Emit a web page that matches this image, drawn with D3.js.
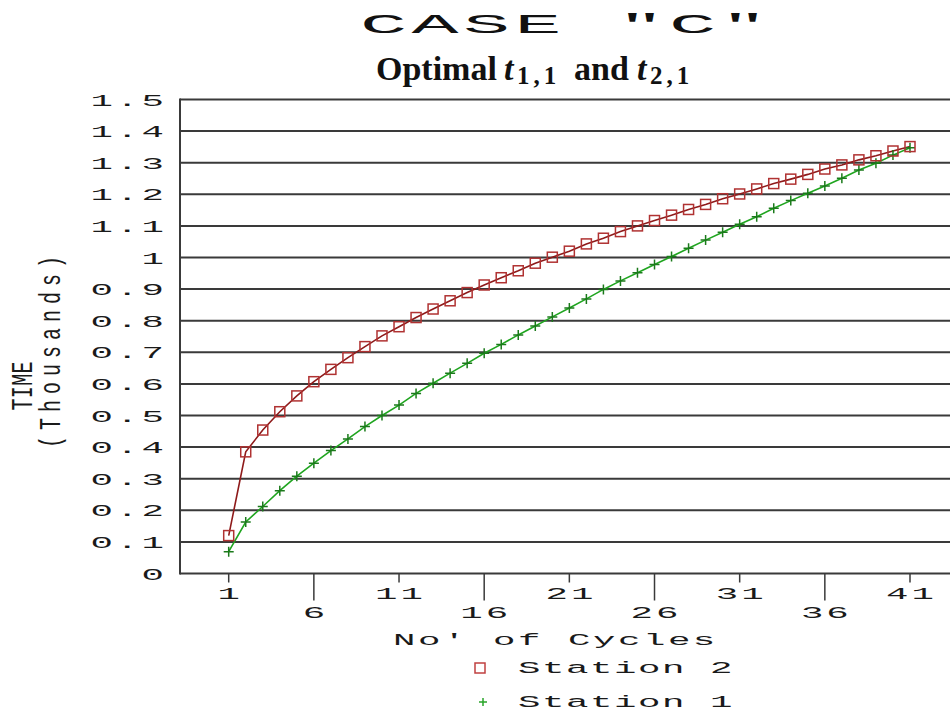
<!DOCTYPE html>
<html>
<head>
<meta charset="utf-8">
<script src="https://cdn.jsdelivr.net/npm/d3@7"></script>
<style>
  html, body { margin: 0; padding: 0; background: #ffffff; }
  svg { display: block; }
</style>
</head>
<body>
<svg id="chart" width="950" height="711"></svg>
<script>
// ---------------- DATA ----------------
const cycles = [1,2,3,4,5,6,7,8,9,10,11,12,13,14,15,16,17,18,19,20,21,22,23,24,25,26,27,28,29,30,31,32,33,34,35,36,37,38,39,40,41];
const station2 = [0.12,0.385,0.454,0.512,0.562,0.607,0.646,0.683,0.718,0.752,0.781,0.81,0.837,0.863,0.889,0.913,0.936,0.958,0.982,1.001,1.02,1.043,1.061,1.082,1.1,1.117,1.134,1.152,1.168,1.186,1.201,1.217,1.234,1.248,1.263,1.28,1.293,1.309,1.322,1.337,1.351];
const station1 = [0.069,0.163,0.212,0.262,0.308,0.349,0.389,0.426,0.465,0.5,0.533,0.57,0.602,0.634,0.665,0.697,0.725,0.755,0.783,0.812,0.84,0.869,0.899,0.926,0.952,0.978,1.003,1.029,1.055,1.08,1.105,1.129,1.156,1.18,1.203,1.226,1.251,1.277,1.298,1.324,1.347];
const xTickValues = [1,6,11,16,21,26,31,36,41];
const yTickValues = [0,0.1,0.2,0.3,0.4,0.5,0.6,0.7,0.8,0.9,1,1.1,1.2,1.3,1.4,1.5];
const yTickLabels = ["0","0.1","0.2","0.3","0.4","0.5","0.6","0.7","0.8","0.9","1","1.1","1.2","1.3","1.4","1.5"];
const seriesNames = ["Station 2", "Station 1"];
const titleText = 'CASE "C"';
const xTitle = "No' of Cycles";
const yTitle1 = "TIME";
const yTitle2 = "(Thousands)";

// ---------------- LAYOUT ----------------
const svg = d3.select("#chart");
const plotLeft = 180, plotRight = 960, plotTop = 99.5, plotBottom = 573.5;
const x = d3.scaleLinear().domain([1, 41]).range([228.7, 910]);
const y = d3.scaleLinear().domain([0, 1.5]).range([plotBottom, plotTop]);
const MONO = "'Liberation Mono', 'Courier New', monospace";

svg.append("rect").attr("width", 950).attr("height", 711).attr("fill", "#ffffff");

// stretched monospace text helper
function mono(parent, opts) {
  const { x: tx, y: ty, text, size, sx, adv, anchor = "start", fill = "#1a1a1a", weight = "normal" } = opts;
  const ls = adv / sx - 0.6 * size;
  const t = parent.append("text")
    .attr("transform", `translate(${tx},${ty}) scale(${sx},1)`)
    .attr("font-family", MONO)
    .attr("font-size", size)
    .attr("font-weight", weight)
    .attr("letter-spacing", ls)
    .attr("text-anchor", anchor)
    .attr("fill", fill)
    .text(text);
  if (anchor === "middle") t.attr("dx", ls / 2);
  if (anchor === "end") t.attr("dx", ls);
  return t;
}

// ---------------- GRID ----------------
const grid = svg.append("g");
grid.selectAll("line.grid")
  .data(yTickValues.filter(v => v > 0))
  .join("line")
  .attr("x1", plotLeft).attr("x2", plotRight)
  .attr("y1", d => y(d)).attr("y2", d => y(d))
  .attr("stroke", "#3a3a3a").attr("stroke-width", 2);

// axis lines
svg.append("line").attr("x1", plotLeft).attr("x2", plotRight)
  .attr("y1", y(0)).attr("y2", y(0)).attr("stroke", "#3a3a3a").attr("stroke-width", 2);
svg.append("line").attr("x1", plotLeft).attr("x2", plotLeft)
  .attr("y1", y(1.5) - 1).attr("y2", y(0) + 1).attr("stroke", "#3a3a3a").attr("stroke-width", 2);

// y tick labels
const yLab = svg.append("g");
yTickValues.forEach((v, i) => {
  mono(yLab, { x: 164, y: y(v) + 6, text: yTickLabels[i], size: 17, sx: 2.2, adv: 25.5, anchor: "end" });
});

// x ticks
const xAx = svg.append("g");
xTickValues.forEach((v, i) => {
  const low = i % 2 === 1;
  xAx.append("line")
    .attr("x1", x(v)).attr("x2", x(v))
    .attr("y1", y(0)).attr("y2", y(0) + (low ? 27 : 9))
    .attr("stroke", "#3a3a3a").attr("stroke-width", 1.5);
  mono(xAx, { x: x(v), y: y(0) + (low ? 44 : 25), text: String(v), size: 17, sx: 2.2, adv: 25.5, anchor: "middle" });
});

// ---------------- SERIES ----------------
const line = d3.line().x((d, i) => x(cycles[i])).y(d => y(d));

svg.append("path").datum(station1)
  .attr("d", line).attr("fill", "none")
  .attr("stroke", "#1fa51f").attr("stroke-width", 1.6);
svg.append("path").datum(station2)
  .attr("d", line).attr("fill", "none")
  .attr("stroke", "#8e1a1a").attr("stroke-width", 1.6);

// plus markers station 1
const plus = svg.append("g");
station1.forEach((v, i) => {
  const cx = x(cycles[i]), cy = y(v), h = 5;
  plus.append("path")
    .attr("d", `M${cx - h},${cy}H${cx + h}M${cx},${cy - h}V${cy + h}`)
    .attr("stroke", "#1b7a1b").attr("stroke-width", 1.5).attr("fill", "none");
});

// square markers station 2
svg.append("g").selectAll("rect")
  .data(station2)
  .join("rect")
  .attr("x", (d, i) => x(cycles[i]) - 5)
  .attr("y", d => y(d) - 5)
  .attr("width", 10).attr("height", 10)
  .attr("fill", "none")
  .attr("stroke", "#b03232").attr("stroke-width", 1.5);

// ---------------- TITLES ----------------
mono(svg, { x: 360, y: 33, text: titleText, size: 28, sx: 2.8, adv: 51.5, anchor: "start", fill: "#111" });

const SERIF = "'Liberation Serif', 'Times New Roman', serif";
const sub = svg.append("text")
  .attr("y", 80)
  .attr("font-family", SERIF)
  .attr("font-weight", "bold")
  .attr("font-size", 34)
  .attr("fill", "#111");
sub.append("tspan").attr("x", 376).text("Optimal");
sub.append("tspan").attr("x", 504).attr("font-style", "italic").text("t");
sub.append("tspan").attr("x", 517).attr("font-size", 25).attr("dy", 4).attr("letter-spacing", 4).text("1,1");
sub.append("tspan").attr("x", 574).attr("dy", -4).text("and");
sub.append("tspan").attr("x", 637).attr("font-style", "italic").text("t");
sub.append("tspan").attr("x", 650).attr("font-size", 25).attr("dy", 4).attr("letter-spacing", 4).text("2,1");

// x title
mono(svg, { x: 393, y: 645, text: xTitle, size: 17, sx: 2.2, adv: 25, anchor: "start" });

// y titles (rotated, stretched across)
function monoV(parent, opts) {
  const { x: tx, y: ty, text, size, sy, adv } = opts;
  const ls = adv - 0.6 * size;
  return parent.append("text")
    .attr("transform", `translate(${tx},${ty}) rotate(-90) scale(1,${sy})`)
    .attr("font-family", MONO)
    .attr("font-size", size)
    .attr("letter-spacing", ls)
    .attr("text-anchor", "middle")
    .attr("dx", ls / 2)
    .attr("fill", "#1a1a1a")
    .text(text);
}
monoV(svg, { x: 32, y: 386, text: yTitle1, size: 20, sy: 1.5, adv: 12.3 });
monoV(svg, { x: 60, y: 352, text: yTitle2, size: 20, sy: 1.5, adv: 18 });

// ---------------- LEGEND ----------------
const leg = svg.append("g");
leg.append("rect").attr("x", 475).attr("y", 663).attr("width", 10).attr("height", 10)
  .attr("fill", "none").attr("stroke", "#c04040").attr("stroke-width", 1.5);
leg.append("path").attr("d", "M479,702H487M483,698V706")
  .attr("stroke", "#2aa52a").attr("stroke-width", 1.5);
mono(leg, { x: 518, y: 673, text: seriesNames[0], size: 17, sx: 2.2, adv: 24, anchor: "start" });
mono(leg, { x: 518, y: 707, text: seriesNames[1], size: 17, sx: 2.2, adv: 24, anchor: "start" });
</script>
</body>
</html>
